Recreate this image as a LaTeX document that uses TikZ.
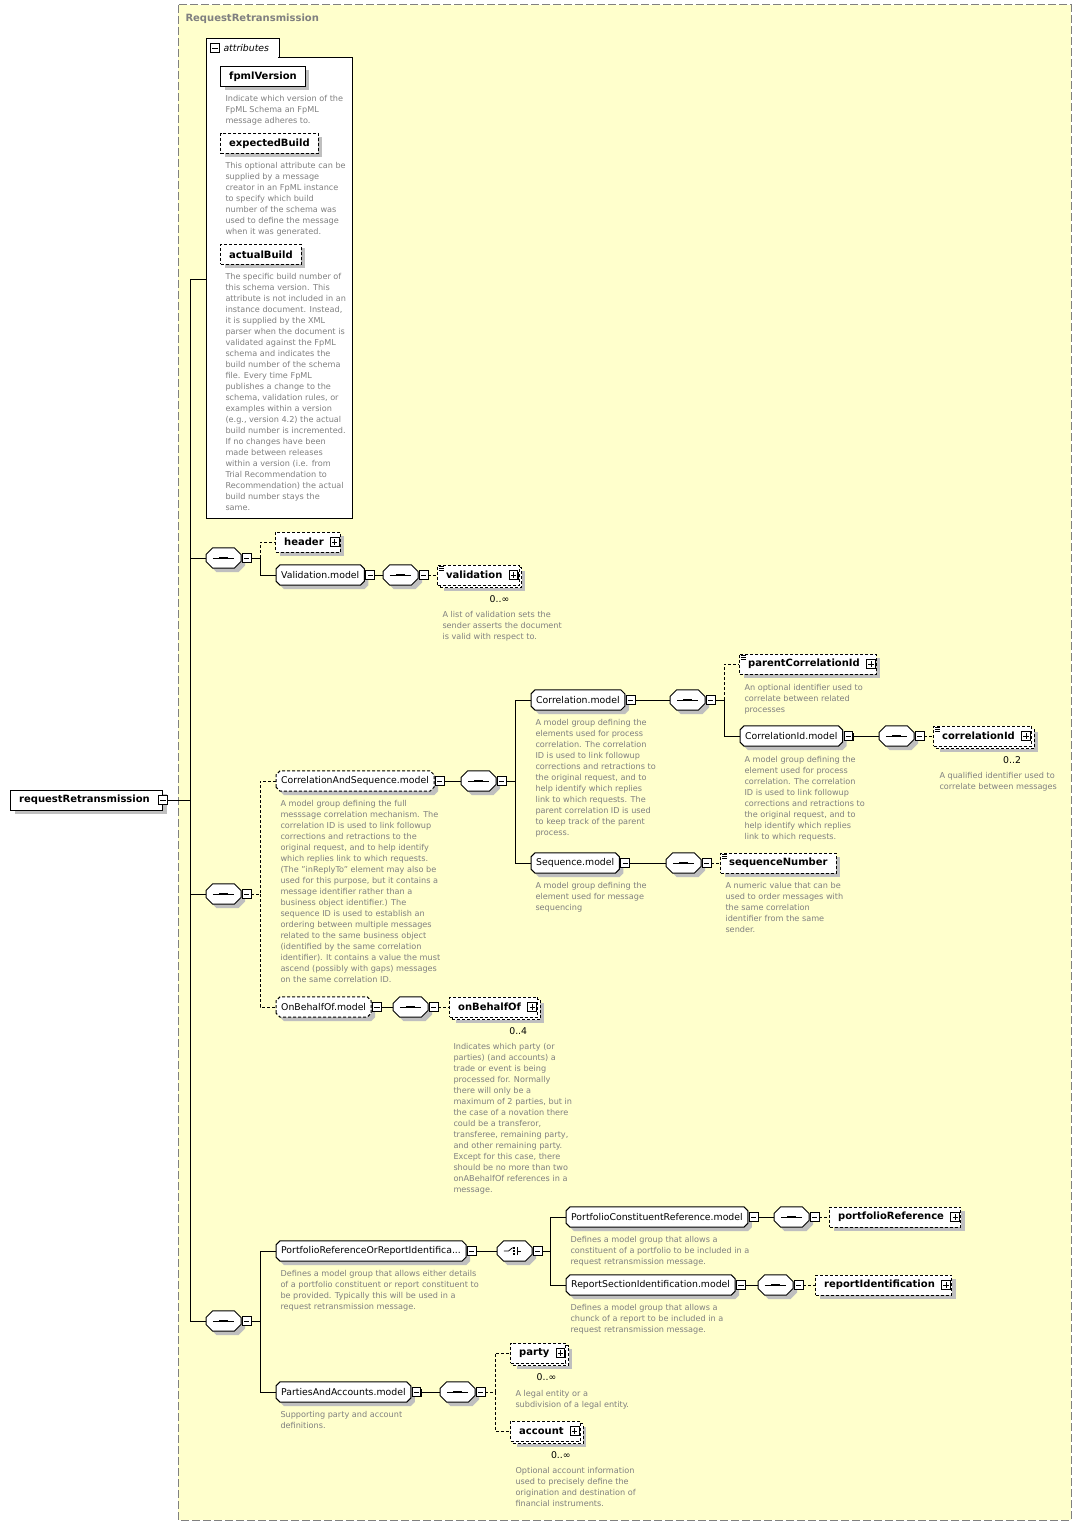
\documentclass[tikz,border=0pt]{standalone}
\usepackage{fontspec}
\setmainfont{DejaVu Sans}
\usetikzlibrary{positioning,shadows}
\definecolor{bgyellow}{HTML}{FFFFCC}
\definecolor{descgray}{HTML}{808080}
\newcommand\elfont{\fontsize{7.5}{9}\selectfont\bfseries}
\newcommand\grpfont{\fontsize{7}{8.4}\selectfont}
\newcommand\descfont{\fontsize{6.1}{8.25}\selectfont}
\makeatletter
\pgfkeys{/pgf/octcut/.initial=3pt}
\pgfdeclareshape{octbox}{
  \inheritsavedanchors[from=rectangle]
  \inheritanchorborder[from=rectangle]
  \inheritanchor[from=rectangle]{center}
  \inheritanchor[from=rectangle]{north}
  \inheritanchor[from=rectangle]{south}
  \inheritanchor[from=rectangle]{west}
  \inheritanchor[from=rectangle]{east}
  \inheritanchor[from=rectangle]{north west}
  \inheritanchor[from=rectangle]{north east}
  \inheritanchor[from=rectangle]{south west}
  \inheritanchor[from=rectangle]{south east}
  \inheritanchor[from=rectangle]{base}
  \inheritanchor[from=rectangle]{mid}
  \backgroundpath{%
    \pgfmathsetmacro\octc{\pgfkeysvalueof{/pgf/octcut}}%
    \southwest\edef\octxa{\the\pgf@x}\edef\octya{\the\pgf@y}%
    \northeast\edef\octxb{\the\pgf@x}\edef\octyb{\the\pgf@y}%
    \pgfpathmoveto{\pgfpoint{\octxa}{\octya+\octc pt}}%
    \pgfpathlineto{\pgfpoint{\octxa}{\octyb-\octc pt}}%
    \pgfpathlineto{\pgfpoint{\octxa+\octc pt}{\octyb}}%
    \pgfpathlineto{\pgfpoint{\octxb-\octc pt}{\octyb}}%
    \pgfpathlineto{\pgfpoint{\octxb}{\octyb-\octc pt}}%
    \pgfpathlineto{\pgfpoint{\octxb}{\octya+\octc pt}}%
    \pgfpathlineto{\pgfpoint{\octxb-\octc pt}{\octya}}%
    \pgfpathlineto{\pgfpoint{\octxa+\octc pt}{\octya}}%
    \pgfpathclose
  }
}
\makeatother
\tikzset{
  dsh/.style={dash pattern=on 2.25pt off 1.5pt},
  sh/.style={drop shadow={shadow xshift=3pt,shadow yshift=-3pt,fill=black!25,opacity=1}},
  box/.style={draw,fill=white,font=\elfont,minimum height=15pt,inner xsep=6.5pt,inner ysep=0pt,anchor=west},
  elem/.style={box,sh},
  opt/.style={elem,dsh},
  xp/.style={execute at end node={\hspace*{6pt}}},
  multi/.style={box,dsh,xp,
    drop shadow={shadow xshift=4.5pt,shadow yshift=-4.5pt,fill=black!25,opacity=1},
    general shadow={shadow xshift=2pt,shadow yshift=-2pt,draw,fill=white,dsh}},
  simp/.style={path picture={\foreach \k in {1,2,3}
      \draw[solid,black,line width=.4pt] ([xshift=1pt,yshift=-\k*1.2pt]path picture bounding box.north west) -- ++(3.5pt,0);}},
  grp/.style={octbox,/pgf/octcut=3pt,draw,fill=white,font=\grpfont,
    minimum height=14.5pt,inner xsep=3.5pt,inner ysep=0pt,anchor=west,sh},
  optgrp/.style={grp,dsh},
  comp/.style={octbox,/pgf/octcut=5pt,draw,fill=white,
    minimum width=25.5pt,minimum height=14.5pt,inner sep=0pt,anchor=west,sh},
  seqc/.style={comp,path picture={
      \draw[solid,black,line width=.6pt] ([xshift=-8pt]path picture bounding box.center) -- ([xshift=8pt]path picture bounding box.center);
      \foreach \d in {-2.25,0,2.25}
        \fill[black] ([xshift=\d*1pt]path picture bounding box.center) ++(-.8pt,-.8pt) rectangle ++(1.6pt,1.6pt);}},
  chc/.style={comp,path picture={
      \draw[solid,black,line width=.6pt] ([xshift=-8pt]path picture bounding box.center) -- ([xshift=-4.5pt]path picture bounding box.center)
        -- ([xshift=-1.5pt,yshift=2.5pt]path picture bounding box.center);
      \draw[solid,black,line width=.6pt] ([xshift=2pt,yshift=-3pt]path picture bounding box.center) -- ([xshift=2pt,yshift=3pt]path picture bounding box.center);
      \draw[solid,black,line width=.6pt] ([xshift=2pt]path picture bounding box.center) -- ([xshift=5pt]path picture bounding box.center);
      \foreach \d in {-2.2,0,2.2}
        \fill[black] ([xshift=-.2pt,yshift=\d*1pt]path picture bounding box.center) ++(-.7pt,-.7pt) rectangle ++(1.4pt,1.4pt);}},
  tog/.style={draw,fill=white,line width=.6pt,minimum size=6.5pt,inner sep=0pt,
    drop shadow={shadow xshift=.7pt,shadow yshift=-.7pt,fill=black,opacity=1}},
  minus/.style={tog,path picture={\draw[black,line width=.6pt] ([xshift=1.3pt]path picture bounding box.west) -- ([xshift=-1.3pt]path picture bounding box.east);}},
  plus/.style={tog,path picture={\draw[black,line width=.6pt] ([xshift=1.3pt]path picture bounding box.west) -- ([xshift=-1.3pt]path picture bounding box.east)
      ([yshift=-1.3pt]path picture bounding box.north) -- ([yshift=1.3pt]path picture bounding box.south);}},
  occ/.style={font=\grpfont,inner sep=0pt},
  desc/.style={anchor=north west,inner sep=0pt,yshift=-1.5pt,align=left,font=\descfont,text=descgray}
}
\begin{document}
\begin{tikzpicture}[x=.75pt,y=-.75pt,line width=.75pt]
  \useasboundingbox (0,0) rectangle (1081,1526);
  \draw[descgray,fill=bgyellow,dash pattern=on 6pt off 2.25pt] (178,5) rectangle (1071,1520);
  \node[anchor=west,inner sep=0pt,font=\elfont,text=descgray] (title) at (185,19) {RequestRetransmission};

  % attributes
  \node[draw,fill=white,anchor=north west,minimum width=109.5pt,minimum height=345.75pt,inner sep=0pt] (attr) at (206,57) {};
  \draw[fill=white] (attr.north west) -- ++(0,-18) -- ++(73,0) -- ++(0,18);
  \fill[white] (206.6,55.5) rectangle (278.4,58.5);
  \node[minus] (attr-t) at (215,48) {};
  \node[anchor=west,inner sep=0pt,font=\fontsize{7}{8}\selectfont\itshape] (attr-l) at (223,48) {attributes};
  \node[elem] (fpml) at (220,76.5) {fpmlVersion};
  \node[desc] (fpml-d) at (225,93) {Indicate which version of the\\FpML Schema an FpML\\message adheres to.};
  \node[opt] (expb) at (220,143.5) {expectedBuild};
  \node[desc] (expb-d) at (225,160) {This optional attribute can be\\supplied by a message\\creator in an FpML instance\\to specify which build\\number of the schema was\\used to define the message\\when it was generated.};
  \node[opt] (actb) at (220,254.5) {actualBuild};
  \node[desc] (actb-d) at (225,271) {The specific build number of\\this schema version. This\\attribute is not included in an\\instance document. Instead,\\it is supplied by the XML\\parser when the document is\\validated against the FpML\\schema and indicates the\\build number of the schema\\file. Every time FpML\\publishes a change to the\\schema, validation rules, or\\examples within a version\\(e.g., version 4.2) the actual\\build number is incremented.\\If no changes have been\\made between releases\\within a version (i.e. from\\Trial Recommendation to\\Recommendation) the actual\\build number stays the\\same.};

  \node[elem,execute at end node={\hspace*{3pt}}] (rr) at (10,800) {requestRetransmission};
  \node[minus] (rr-t) at (rr.east) {};

  % header / validation
  \node[seqc] (s1) at (206,558) {};
  \node[opt,xp] (hdr) at (275,542) {header};
  \node[grp] (valm) at (276,575) {Validation.model};
  \node[seqc] (vs) at (383,575) {};
  \node[multi,simp] (val) at (437,575) {validation};
  \node[desc] (val-d) at (442,609) {A list of validation sets the\\sender asserts the document\\is valid with respect to.};

  % correlation and sequence
  \node[seqc] (s2) at (206,894) {};
  \node[optgrp] (cas) at (276,781) {CorrelationAndSequence.model};
  \node[desc] (cas-d) at (280,798) {A model group defining the full\\messsage correlation mechanism. The\\correlation ID is used to link followup\\corrections and retractions to the\\original request, and to help identify\\which replies link to which requests.\\(The "inReplyTo" element may also be\\used for this purpose, but it contains a\\message identifier rather than a\\business object identifier.) The\\sequence ID is used to establish an\\ordering between multiple messages\\related to the same business object\\(identified by the same correlation\\identifier). It contains a value the must\\ascend (possibly with gaps) messages\\on the same correlation ID.};
  \node[seqc] (cs) at (461,781) {};
  \node[grp] (cm) at (531,700) {Correlation.model};
  \node[desc] (cm-d) at (535,717) {A model group defining the\\elements used for process\\correlation. The correlation\\ID is used to link followup\\corrections and retractions to\\the original request, and to\\help identify which replies\\link to which requests. The\\parent correlation ID is used\\to keep track of the parent\\process.};
  \node[seqc] (cms) at (670,700) {};
  \node[opt,xp,simp] (pcid) at (739,664) {parentCorrelationId};
  \node[desc] (pcid-d) at (744,682) {An optional identifier used to\\correlate between related\\processes};
  \node[grp] (cim) at (740,736) {CorrelationId.model};
  \node[desc] (cim-d) at (744,754) {A model group defining the\\element used for process\\correlation. The correlation\\ID is used to link followup\\corrections and retractions to\\the original request, and to\\help identify which replies\\link to which requests.};
  \node[seqc] (cis) at (879,736) {};
  \node[multi,simp] (cid) at (933,736) {correlationId};
  \node[desc] (cid-d) at (939,770) {A qualified identifier used to\\correlate between messages};
  \node[grp] (sm) at (531,863) {Sequence.model};
  \node[desc] (sm-d) at (535,880) {A model group defining the\\element used for message\\sequencing};
  \node[seqc] (sms) at (666,863) {};
  \node[opt,simp] (seqn) at (720,863) {sequenceNumber};
  \node[desc] (seqn-d) at (725,880) {A numeric value that can be\\used to order messages with\\the same correlation\\identifier from the same\\sender.};
  \node[optgrp] (obm) at (276,1007) {OnBehalfOf.model};
  \node[seqc] (obs) at (393,1007) {};
  \node[multi] (obo) at (449,1007) {onBehalfOf};
  \node[desc] (obo-d) at (453,1041) {Indicates which party (or\\parties) (and accounts) a\\trade or event is being\\processed for. Normally\\there will only be a\\maximum of 2 parties, but in\\the case of a novation there\\could be a transferor,\\transferee, remaining party,\\and other remaining party.\\Except for this case, there\\should be no more than two\\onABehalfOf references in a\\message.};

  % portfolio / parties
  \node[seqc] (s3) at (206,1321) {};
  \node[grp] (prm) at (276,1251) {PortfolioReferenceOrReportIdentifica...};
  \node[desc] (prm-d) at (280,1268) {Defines a model group that allows either details\\of a portfolio constituent or report constituent to\\be provided. Typically this will be used in a\\request retransmission message.};
  \node[chc] (ch) at (497,1251) {};
  \node[grp] (pcm) at (566,1217) {PortfolioConstituentReference.model};
  \node[desc] (pcm-d) at (570,1234) {Defines a model group that allows a\\constituent of a portfolio to be included in a\\request retransmission message.};
  \node[seqc] (pcs) at (774,1217) {};
  \node[opt,xp] (pref) at (829,1217) {portfolioReference};
  \node[grp] (rsm) at (566,1285) {ReportSectionIdentification.model};
  \node[desc] (rsm-d) at (570,1302) {Defines a model group that allows a\\chunck of a report to be included in a\\request retransmission message.};
  \node[seqc] (rss) at (758,1285) {};
  \node[opt,xp] (rid) at (815,1285) {reportIdentification};
  \node[grp] (pam) at (276,1392) {PartiesAndAccounts.model};
  \node[desc] (pam-d) at (280,1409) {Supporting party and account\\definitions.};
  \node[seqc] (pas) at (440,1392) {};
  \node[multi] (pty) at (510,1353) {party};
  \node[desc] (pty-d) at (515,1388) {A legal entity or a\\subdivision of a legal entity.};
  \node[multi] (acc) at (510,1431) {account};
  \node[desc] (acc-d) at (515,1465) {Optional account information\\used to precisely define the\\origination and destination of\\financial instruments.};

  % toggles and occurrences
  \foreach \n in {hdr,val,pcid,cid,obo,pref,rid,pty,acc}
    \node[plus,left=1pt of \n.east] (\n-t) {};
  \foreach \n in {valm,cas,cm,cim,sm,obm,prm,pcm,rsm,pam,s1,s2,s3,vs,cs,cms,cis,sms,obs,ch,pcs,rss,pas}
    \node[minus,right=.75pt of \n] (\n-t) {};
  \foreach \n/\m in {val/∞,cid/2,obo/4,pty/∞,acc/∞}
    \node[occ] (\n-o) at ([xshift=-15pt,yshift=-10.5pt]\n.south east) {0..\m};

  % connectors
  \coordinate (ba) at (190,280);
  \draw (rr-t) -- (rr-t -| ba);
  \draw (ba) -- (ba |- s3);
  \draw (ba) -- (ba -| attr.west);
  \foreach \s in {s1,s2,s3}
    \draw (ba |- \s) -- (\s);

  \coordinate (b1) at (260,558);
  \draw (s1-t) -- (b1) |- (valm);
  \draw[dsh] (b1) |- (hdr);
  \draw (valm-t) -- (vs);
  \draw[dsh] (vs-t) -- (val);

  \coordinate (b2) at (260,894);
  \draw[dsh] (s2-t) -- (b2) |- (cas);
  \draw[dsh] (b2) |- (obm);
  \draw (cas-t) -- (cs);
  \coordinate (b3) at (515,781);
  \draw (cs-t) -- (b3) |- (cm);
  \draw (b3) |- (sm);
  \draw (cm-t) -- (cms);
  \coordinate (b4) at (724,700);
  \draw (cms-t) -- (b4) |- (cim);
  \draw[dsh] (b4) |- (pcid);
  \draw (cim-t) -- (cis);
  \draw[dsh] (cis-t) -- (cid);
  \draw (sm-t) -- (sms);
  \draw[dsh] (sms-t) -- (seqn);
  \draw (obm-t) -- (obs);
  \draw[dsh] (obs-t) -- (obo);

  \coordinate (b5) at (260,1321);
  \draw (s3-t) -- (b5) |- (prm);
  \draw (b5) |- (pam);
  \draw (prm-t) -- (ch);
  \coordinate (b6) at (550,1251);
  \draw (ch-t) -- (b6) |- (pcm);
  \draw (b6) |- (rsm);
  \draw (pcm-t) -- (pcs);
  \draw[dsh] (pcs-t) -- (pref);
  \draw (rsm-t) -- (rss);
  \draw[dsh] (rss-t) -- (rid);
  \draw (pam-t) -- (pas);
  \coordinate (b7) at (495,1392);
  \draw[dsh] (pas-t) -- (b7) |- (pty);
  \draw[dsh] (b7) |- (acc);
\end{tikzpicture}
\end{document}
